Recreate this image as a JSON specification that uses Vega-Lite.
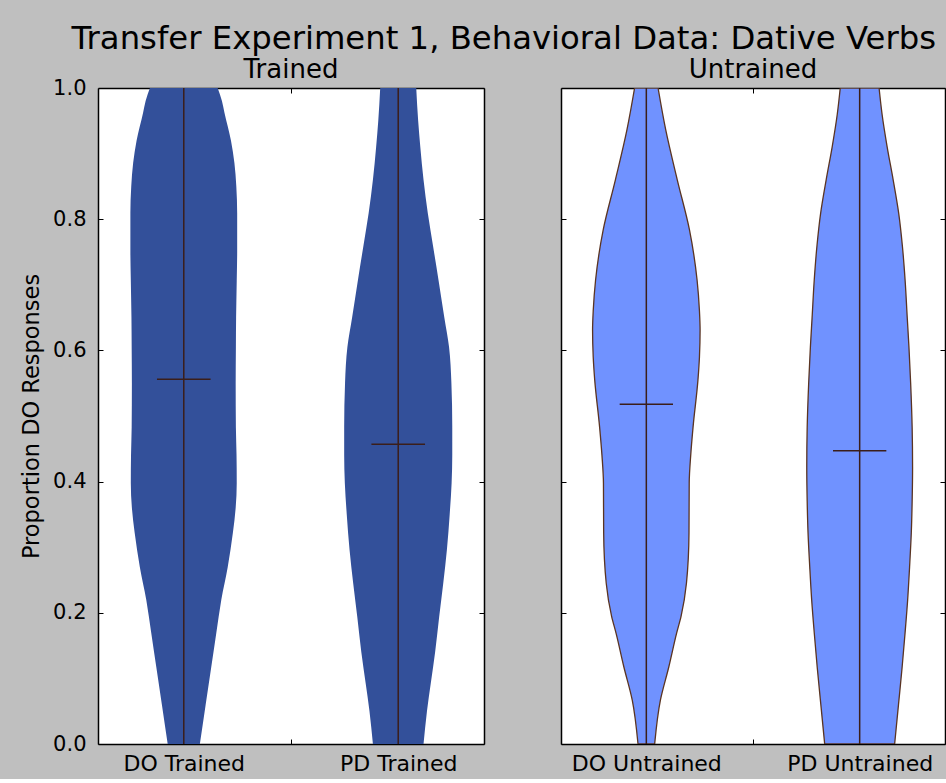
{
  "$schema": "https://vega.github.io/schema/vega-lite/v6.json",
  "background": "#bfbfbf",
  "padding": {"left": 20, "top": 22, "right": 0, "bottom": 5},
  "title": {"text": "Transfer Experiment 1, Behavioral Data: Dative Verbs", "fontSize": 32.3, "font": "DejaVu Sans", "fontWeight": "normal", "color": "black", "anchor": "start", "dx": 51, "offset": 2},
  "config": {
    "view": {"stroke": null, "fill": "white"},
    "axis": {"domain": true, "domainColor": "black", "domainWidth": 1.5, "zindex": 1, "grid": false, "labelFont": "DejaVu Sans", "titleFont": "DejaVu Sans", "labelColor": "black", "titleColor": "black", "tickColor": "black", "tickWidth": 1, "tickSize": -5, "titleFontWeight": "normal"},
    "title": {"font": "DejaVu Sans", "fontWeight": "normal", "color": "black"}
  },
  "datasets": {
    "violins": [
      {"panel": "Trained", "cat": "DO Trained", "y": 1.0, "lo": 0.842, "hi": 1.158},
      {"panel": "Trained", "cat": "DO Trained", "y": 0.98, "lo": 0.822, "hi": 1.178},
      {"panel": "Trained", "cat": "DO Trained", "y": 0.962, "lo": 0.810, "hi": 1.190},
      {"panel": "Trained", "cat": "DO Trained", "y": 0.92, "lo": 0.780, "hi": 1.220},
      {"panel": "Trained", "cat": "DO Trained", "y": 0.886, "lo": 0.764, "hi": 1.236},
      {"panel": "Trained", "cat": "DO Trained", "y": 0.85, "lo": 0.755, "hi": 1.245},
      {"panel": "Trained", "cat": "DO Trained", "y": 0.809, "lo": 0.751, "hi": 1.249},
      {"panel": "Trained", "cat": "DO Trained", "y": 0.75, "lo": 0.751, "hi": 1.249},
      {"panel": "Trained", "cat": "DO Trained", "y": 0.707, "lo": 0.753, "hi": 1.247},
      {"panel": "Trained", "cat": "DO Trained", "y": 0.65, "lo": 0.756, "hi": 1.244},
      {"panel": "Trained", "cat": "DO Trained", "y": 0.605, "lo": 0.757, "hi": 1.243},
      {"panel": "Trained", "cat": "DO Trained", "y": 0.55, "lo": 0.758, "hi": 1.242},
      {"panel": "Trained", "cat": "DO Trained", "y": 0.483, "lo": 0.757, "hi": 1.243},
      {"panel": "Trained", "cat": "DO Trained", "y": 0.44, "lo": 0.754, "hi": 1.246},
      {"panel": "Trained", "cat": "DO Trained", "y": 0.398, "lo": 0.753, "hi": 1.247},
      {"panel": "Trained", "cat": "DO Trained", "y": 0.36, "lo": 0.758, "hi": 1.242},
      {"panel": "Trained", "cat": "DO Trained", "y": 0.322, "lo": 0.771, "hi": 1.229},
      {"panel": "Trained", "cat": "DO Trained", "y": 0.27, "lo": 0.795, "hi": 1.205},
      {"panel": "Trained", "cat": "DO Trained", "y": 0.22, "lo": 0.825, "hi": 1.175},
      {"panel": "Trained", "cat": "DO Trained", "y": 0.17, "lo": 0.848, "hi": 1.152},
      {"panel": "Trained", "cat": "DO Trained", "y": 0.117, "lo": 0.872, "hi": 1.128},
      {"panel": "Trained", "cat": "DO Trained", "y": 0.06, "lo": 0.898, "hi": 1.102},
      {"panel": "Trained", "cat": "DO Trained", "y": 0.0, "lo": 0.925, "hi": 1.075},
      {"panel": "Trained", "cat": "PD Trained", "y": 1.0, "lo": 1.916, "hi": 2.084},
      {"panel": "Trained", "cat": "PD Trained", "y": 0.95, "lo": 1.907, "hi": 2.093},
      {"panel": "Trained", "cat": "PD Trained", "y": 0.91, "lo": 1.897, "hi": 2.103},
      {"panel": "Trained", "cat": "PD Trained", "y": 0.86, "lo": 1.882, "hi": 2.118},
      {"panel": "Trained", "cat": "PD Trained", "y": 0.809, "lo": 1.862, "hi": 2.138},
      {"panel": "Trained", "cat": "PD Trained", "y": 0.76, "lo": 1.838, "hi": 2.162},
      {"panel": "Trained", "cat": "PD Trained", "y": 0.707, "lo": 1.812, "hi": 2.188},
      {"panel": "Trained", "cat": "PD Trained", "y": 0.65, "lo": 1.785, "hi": 2.215},
      {"panel": "Trained", "cat": "PD Trained", "y": 0.605, "lo": 1.763, "hi": 2.237},
      {"panel": "Trained", "cat": "PD Trained", "y": 0.55, "lo": 1.752, "hi": 2.248},
      {"panel": "Trained", "cat": "PD Trained", "y": 0.483, "lo": 1.748, "hi": 2.252},
      {"panel": "Trained", "cat": "PD Trained", "y": 0.44, "lo": 1.748, "hi": 2.252},
      {"panel": "Trained", "cat": "PD Trained", "y": 0.398, "lo": 1.751, "hi": 2.249},
      {"panel": "Trained", "cat": "PD Trained", "y": 0.35, "lo": 1.760, "hi": 2.240},
      {"panel": "Trained", "cat": "PD Trained", "y": 0.296, "lo": 1.773, "hi": 2.227},
      {"panel": "Trained", "cat": "PD Trained", "y": 0.245, "lo": 1.790, "hi": 2.210},
      {"panel": "Trained", "cat": "PD Trained", "y": 0.194, "lo": 1.809, "hi": 2.191},
      {"panel": "Trained", "cat": "PD Trained", "y": 0.14, "lo": 1.828, "hi": 2.172},
      {"panel": "Trained", "cat": "PD Trained", "y": 0.093, "lo": 1.848, "hi": 2.152},
      {"panel": "Trained", "cat": "PD Trained", "y": 0.05, "lo": 1.866, "hi": 2.134},
      {"panel": "Trained", "cat": "PD Trained", "y": 0.0, "lo": 1.882, "hi": 2.118},
      {"panel": "Untrained", "cat": "DO Untrained", "y": 1.0, "lo": 0.945, "hi": 1.055},
      {"panel": "Untrained", "cat": "DO Untrained", "y": 0.936, "lo": 0.909, "hi": 1.091},
      {"panel": "Untrained", "cat": "DO Untrained", "y": 0.86, "lo": 0.855, "hi": 1.145},
      {"panel": "Untrained", "cat": "DO Untrained", "y": 0.784, "lo": 0.798, "hi": 1.202},
      {"panel": "Untrained", "cat": "DO Untrained", "y": 0.707, "lo": 0.762, "hi": 1.238},
      {"panel": "Untrained", "cat": "DO Untrained", "y": 0.66, "lo": 0.751, "hi": 1.249},
      {"panel": "Untrained", "cat": "DO Untrained", "y": 0.631, "lo": 0.748, "hi": 1.252},
      {"panel": "Untrained", "cat": "DO Untrained", "y": 0.59, "lo": 0.751, "hi": 1.249},
      {"panel": "Untrained", "cat": "DO Untrained", "y": 0.555, "lo": 0.758, "hi": 1.242},
      {"panel": "Untrained", "cat": "DO Untrained", "y": 0.483, "lo": 0.781, "hi": 1.219},
      {"panel": "Untrained", "cat": "DO Untrained", "y": 0.44, "lo": 0.792, "hi": 1.208},
      {"panel": "Untrained", "cat": "DO Untrained", "y": 0.398, "lo": 0.799, "hi": 1.201},
      {"panel": "Untrained", "cat": "DO Untrained", "y": 0.322, "lo": 0.800, "hi": 1.200},
      {"panel": "Untrained", "cat": "DO Untrained", "y": 0.245, "lo": 0.812, "hi": 1.188},
      {"panel": "Untrained", "cat": "DO Untrained", "y": 0.195, "lo": 0.837, "hi": 1.163},
      {"panel": "Untrained", "cat": "DO Untrained", "y": 0.169, "lo": 0.858, "hi": 1.142},
      {"panel": "Untrained", "cat": "DO Untrained", "y": 0.117, "lo": 0.895, "hi": 1.105},
      {"panel": "Untrained", "cat": "DO Untrained", "y": 0.067, "lo": 0.934, "hi": 1.066},
      {"panel": "Untrained", "cat": "DO Untrained", "y": 0.0, "lo": 0.961, "hi": 1.039},
      {"panel": "Untrained", "cat": "PD Untrained", "y": 1.0, "lo": 1.909, "hi": 2.091},
      {"panel": "Untrained", "cat": "PD Untrained", "y": 0.96, "lo": 1.895, "hi": 2.105},
      {"panel": "Untrained", "cat": "PD Untrained", "y": 0.91, "lo": 1.871, "hi": 2.129},
      {"panel": "Untrained", "cat": "PD Untrained", "y": 0.86, "lo": 1.843, "hi": 2.157},
      {"panel": "Untrained", "cat": "PD Untrained", "y": 0.809, "lo": 1.817, "hi": 2.183},
      {"panel": "Untrained", "cat": "PD Untrained", "y": 0.76, "lo": 1.800, "hi": 2.200},
      {"panel": "Untrained", "cat": "PD Untrained", "y": 0.707, "lo": 1.787, "hi": 2.213},
      {"panel": "Untrained", "cat": "PD Untrained", "y": 0.65, "lo": 1.777, "hi": 2.223},
      {"panel": "Untrained", "cat": "PD Untrained", "y": 0.605, "lo": 1.769, "hi": 2.231},
      {"panel": "Untrained", "cat": "PD Untrained", "y": 0.55, "lo": 1.761, "hi": 2.239},
      {"panel": "Untrained", "cat": "PD Untrained", "y": 0.483, "lo": 1.754, "hi": 2.246},
      {"panel": "Untrained", "cat": "PD Untrained", "y": 0.422, "lo": 1.752, "hi": 2.248},
      {"panel": "Untrained", "cat": "PD Untrained", "y": 0.37, "lo": 1.754, "hi": 2.246},
      {"panel": "Untrained", "cat": "PD Untrained", "y": 0.322, "lo": 1.758, "hi": 2.242},
      {"panel": "Untrained", "cat": "PD Untrained", "y": 0.27, "lo": 1.766, "hi": 2.234},
      {"panel": "Untrained", "cat": "PD Untrained", "y": 0.22, "lo": 1.775, "hi": 2.225},
      {"panel": "Untrained", "cat": "PD Untrained", "y": 0.17, "lo": 1.787, "hi": 2.213},
      {"panel": "Untrained", "cat": "PD Untrained", "y": 0.117, "lo": 1.801, "hi": 2.199},
      {"panel": "Untrained", "cat": "PD Untrained", "y": 0.06, "lo": 1.818, "hi": 2.182},
      {"panel": "Untrained", "cat": "PD Untrained", "y": 0.0, "lo": 1.836, "hi": 2.164}
    ],
    "stats": [
      {"panel": "Trained", "cat": "DO Trained", "pos": 1, "ymin": 0, "ymax": 1, "med": 0.556, "mlo": 0.875, "mhi": 1.125},
      {"panel": "Trained", "cat": "PD Trained", "pos": 2, "ymin": 0, "ymax": 1, "med": 0.457, "mlo": 1.875, "mhi": 2.125},
      {"panel": "Untrained", "cat": "DO Untrained", "pos": 1, "ymin": 0, "ymax": 1, "med": 0.518, "mlo": 0.875, "mhi": 1.125},
      {"panel": "Untrained", "cat": "PD Untrained", "pos": 2, "ymin": 0, "ymax": 1, "med": 0.447, "mlo": 1.875, "mhi": 2.125}
    ]
  },
  "spacing": 75,
  "hconcat": [
    {
      "width": 386,
      "height": 656,
      "title": {"text": "Trained", "fontSize": 26, "offset": -6},
      "layer": [
        {
          "data": {"name": "violins"},
          "transform": [{"filter": "datum.panel == 'Trained'"}],
          "mark": {"type": "area", "orient": "horizontal", "interpolate": "monotone", "color": "#33509a", "opacity": 1, "clip": true},
          "encoding": {
            "y": {"field": "y", "type": "quantitative", "scale": {"domain": [0, 1], "nice": false, "zero": false},
                  "axis": {"orient": "left", "values": [0, 0.2, 0.4, 0.6, 0.8, 1.0], "format": ".1f", "labelFontSize": 21, "labelPadding": 17, "title": "Proportion DO Responses", "titleFontSize": 22.5, "titlePadding": 9}},
            "x": {"field": "lo", "type": "quantitative", "scale": {"domain": [0.6, 2.4], "nice": false, "zero": false},
                  "axis": {"orient": "bottom", "values": [1, 1.5, 2], "labelExpr": "datum.value == 1 ? 'DO Trained' : datum.value == 2 ? 'PD Trained' : ''", "labelFontSize": 22, "labelPadding": 14, "title": null, "tickOpacity": {"condition": {"test": "datum.value == 1.5", "value": 1}, "value": 0}}},
            "x2": {"field": "hi"},
            "detail": {"field": "cat"}
          }
        },
        {
          "data": {"name": "stats"},
          "transform": [{"filter": "datum.panel == 'Trained'"}],
          "mark": {"type": "rule", "color": "#3b1e1a", "strokeWidth": 1.5, "clip": true},
          "encoding": {
            "x": {"field": "pos", "type": "quantitative", "axis": null},
            "y": {"field": "ymin", "type": "quantitative", "axis": null},
            "y2": {"field": "ymax"}
          }
        },
        {
          "data": {"name": "stats"},
          "transform": [{"filter": "datum.panel == 'Trained'"}],
          "mark": {"type": "rule", "color": "#3b1e1a", "strokeWidth": 1.5},
          "encoding": {
            "x": {"field": "mlo", "type": "quantitative", "axis": null},
            "x2": {"field": "mhi"},
            "y": {"field": "med", "type": "quantitative", "axis": null}
          }
        },
        {
          "data": {"name": "stats"},
          "transform": [{"filter": "datum.panel == 'Trained'"}],
          "mark": {"type": "point", "opacity": 0},
          "encoding": {
            "x": {"field": "pos", "type": "quantitative", "axis": {"orient": "top", "values": [1.5], "labels": false, "title": null}},
            "y": {"field": "med", "type": "quantitative", "axis": {"orient": "right", "values": [0, 0.2, 0.4, 0.6, 0.8, 1.0], "labels": false, "title": null}}
          }
        }
      ],
      "resolve": {"axis": {"x": "independent", "y": "independent"}}
    },
    {
      "width": 384,
      "height": 656,
      "title": {"text": "Untrained", "fontSize": 26, "offset": -6},
      "layer": [
        {
          "data": {"name": "violins"},
          "transform": [{"filter": "datum.panel == 'Untrained'"}],
          "mark": {"type": "area", "orient": "horizontal", "interpolate": "monotone", "color": "#7092ff", "opacity": 1, "stroke": "#5a3422", "strokeWidth": 1.3, "clip": true},
          "encoding": {
            "y": {"field": "y", "type": "quantitative", "scale": {"domain": [0, 1], "nice": false, "zero": false},
                  "axis": {"orient": "left", "values": [0, 0.2, 0.4, 0.6, 0.8, 1.0], "labels": true, "labelExpr": "' '", "labelFontSize": 21, "labelPadding": 0, "title": null}},
            "x": {"field": "lo", "type": "quantitative", "scale": {"domain": [0.6, 2.4], "nice": false, "zero": false},
                  "axis": {"orient": "bottom", "values": [1, 1.5, 2], "labelExpr": "datum.value == 1 ? 'DO Untrained' : datum.value == 2 ? 'PD Untrained' : ''", "labelFontSize": 22, "labelPadding": 14, "title": null, "tickOpacity": {"condition": {"test": "datum.value == 1.5", "value": 1}, "value": 0}}},
            "x2": {"field": "hi"},
            "detail": {"field": "cat"}
          }
        },
        {
          "data": {"name": "stats"},
          "transform": [{"filter": "datum.panel == 'Untrained'"}],
          "mark": {"type": "rule", "color": "#3b1e1a", "strokeWidth": 1.5, "clip": true},
          "encoding": {
            "x": {"field": "pos", "type": "quantitative", "axis": null},
            "y": {"field": "ymin", "type": "quantitative", "axis": null},
            "y2": {"field": "ymax"}
          }
        },
        {
          "data": {"name": "stats"},
          "transform": [{"filter": "datum.panel == 'Untrained'"}],
          "mark": {"type": "rule", "color": "#3b1e1a", "strokeWidth": 1.5},
          "encoding": {
            "x": {"field": "mlo", "type": "quantitative", "axis": null},
            "x2": {"field": "mhi"},
            "y": {"field": "med", "type": "quantitative", "axis": null}
          }
        },
        {
          "data": {"name": "stats"},
          "transform": [{"filter": "datum.panel == 'Untrained'"}],
          "mark": {"type": "point", "opacity": 0},
          "encoding": {
            "x": {"field": "pos", "type": "quantitative", "axis": {"orient": "top", "values": [1.5], "labels": false, "title": null}},
            "y": {"field": "med", "type": "quantitative", "axis": {"orient": "right", "values": [0, 0.2, 0.4, 0.6, 0.8, 1.0], "labels": false, "title": null}}
          }
        }
      ],
      "resolve": {"axis": {"x": "independent", "y": "independent"}}
    }
  ]
}
